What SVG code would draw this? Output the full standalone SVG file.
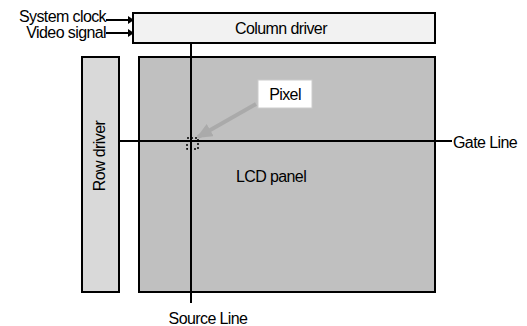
<svg xmlns="http://www.w3.org/2000/svg" width="527" height="326" viewBox="0 0 527 326">
<style>
text{font-family:"Liberation Sans",Arial,sans-serif;font-size:16px;fill:#000;letter-spacing:-0.6px}
.box{stroke:#000;stroke-width:2}
.ln{stroke:#000;stroke-width:2;fill:none}
</style>
<defs>
<marker id="ah" markerWidth="6" markerHeight="8" refX="5" refY="4" orient="auto" markerUnits="userSpaceOnUse">
<path d="M0,0 L6,4 L0,8 Z" fill="#000"/>
</marker>
<marker id="ag" markerWidth="16" markerHeight="14" refX="14" refY="7" orient="auto" markerUnits="userSpaceOnUse">
<path d="M0,0 L16,7 L0,14 Z" fill="#aaaaaa"/>
</marker>
</defs>
<rect width="527" height="326" fill="#fff"/>
<g id="lcd-panel">
<rect class="box" x="139" y="57" width="296" height="235" fill="#c0c0c0"/>
<text x="271" y="182" text-anchor="middle">LCD panel</text>
</g>
<g id="row-driver">
<rect class="box" x="82" y="57" width="37" height="235" fill="#d9d9d9"/>
<text transform="translate(105,156) rotate(-90)" text-anchor="middle">Row driver</text>
</g>
<g id="column-driver">
<rect class="box" x="133" y="13" width="302" height="30" fill="#f2f2f2"/>
<text x="281" y="34" text-anchor="middle">Column driver</text>
</g>
<g id="inputs">
<text x="106" y="22" text-anchor="end">System clock</text>
<text x="106" y="38" text-anchor="end">Video signal</text>
</g>
<g id="connectors">
<line class="ln" x1="106" y1="20" x2="133" y2="20" stroke-width="3" marker-end="url(#ah)"/>
<line class="ln" x1="106" y1="33" x2="133" y2="33" stroke-width="3" marker-end="url(#ah)"/>
<line class="ln" x1="191" y1="43" x2="191" y2="303"/>
<line class="ln" x1="118" y1="141" x2="452" y2="141"/>
<line x1="256" y1="104" x2="198" y2="137" stroke="#aaaaaa" stroke-width="4" marker-end="url(#ag)"/>
</g>
<g id="pixel">
<rect x="187" y="138" width="11" height="11" fill="none" stroke="#000" stroke-width="1.5" stroke-dasharray="2,2"/>
</g>
<g id="pixel-label">
<rect x="258" y="80" width="54" height="28" fill="#fff" stroke="#cccccc" stroke-width="1"/>
<text x="285" y="100" text-anchor="middle">Pixel</text>
</g>
<g id="gate-line-label">
<text x="453" y="148">Gate Line</text>
</g>
<g id="source-line-label">
<text x="208" y="324" text-anchor="middle">Source Line</text>
</g>
</svg>
